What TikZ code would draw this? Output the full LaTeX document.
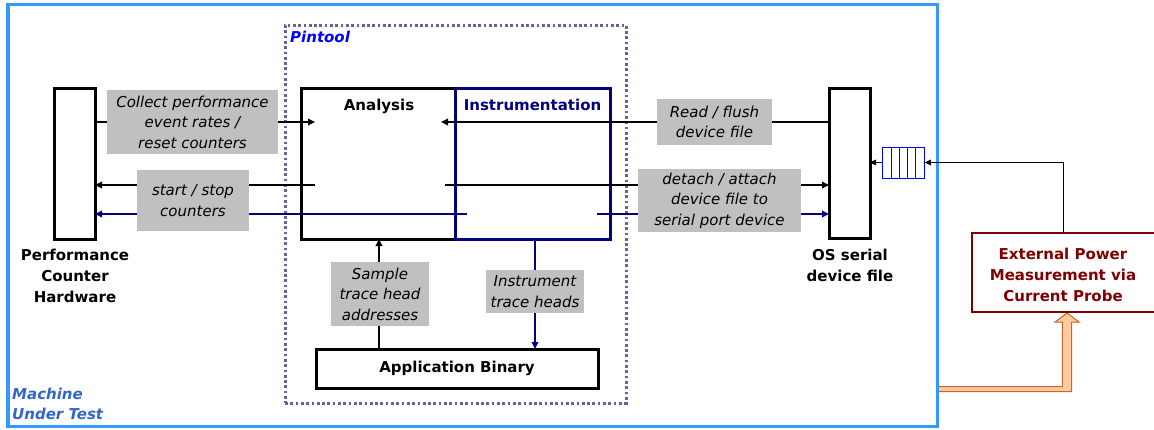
\documentclass[tikz,border=0pt]{standalone}
\usepackage{fontspec}
\setmainfont{DejaVu Sans}
\usetikzlibrary{arrows.meta}
\definecolor{navyc}{RGB}{0,0,128}
\definecolor{outerblue}{RGB}{51,153,255}
\definecolor{mutblue}{RGB}{51,102,204}
\definecolor{pinblue}{RGB}{0,0,255}
\definecolor{dotgray}{RGB}{100,100,155}
\definecolor{lblgray}{RGB}{192,192,192}
\definecolor{darkred}{RGB}{128,0,0}
\definecolor{orfill}{RGB}{255,204,153}
\definecolor{ordraw}{RGB}{200,100,50}
\begin{document}
\begin{tikzpicture}[x=1pt,y=-1pt,
  blk/.style={draw=black,line width=3pt,fill=white,inner sep=0pt,outer sep=0pt},
  nblk/.style={draw=navyc,line width=3pt,inner sep=0pt,outer sep=0pt},
  lbl/.style={fill=lblgray,inner sep=0pt,align=center,font=\fontsize{15}{20.5}\selectfont\itshape},
  btitle/.style={inner sep=0pt,align=center,font=\fontsize{15}{21}\selectfont\bfseries},
  arr/.style={line width=2pt,-{Triangle[length=7pt,width=6.5pt]}},
  narr/.style={draw=navyc,line width=1.7pt,-{Triangle[length=7pt,width=6.5pt]}},
  qline/.style={draw=pinblue,line width=0.9pt}]
\useasboundingbox (0,0) rectangle (1154,429);
% orange block arrow
\draw[fill=orfill,draw=ordraw,line width=1pt] (930,386.7) -- (1062.3,386.7) -- (1062.3,322) -- (1055,322) -- (1067,313) -- (1079,322) -- (1071.7,322) -- (1071.7,391.7) -- (930,391.7) -- cycle;
% outer machine box
\node[draw=outerblue,line width=3.5pt,fill=white,minimum width=929.5pt,minimum height=422.3pt,inner sep=0pt,outer sep=0pt] (mach) at (472.75,215.55) {};
\node[anchor=north west,inner sep=0pt,align=left,text=mutblue,font=\fontsize{15}{19.5}\selectfont\bfseries\itshape] (mut) at (12,388) {Machine\\Under Test};
% pintool dotted box
\node[draw=dotgray,line width=3pt,dash pattern=on 2.7pt off 2.6pt,minimum width=341pt,minimum height=378pt,inner sep=0pt] (pin) at (455.5,214) {};
\node[anchor=base west,inner sep=0pt,text=pinblue,font=\fontsize{15}{21}\selectfont\bfseries\itshape] (pinlbl) at (290,42) {Pintool};
% main boxes
\node[blk,minimum width=41pt,minimum height=151pt] (pch) at (74.5,163.5) {};
\node[btitle,anchor=north] (pchl) at (75,249) {Performance\\Counter\\Hardware};
\node[blk,minimum width=154pt,minimum height=151pt] (ana) at (378,163.5) {};
\node[nblk,minimum width=155pt,minimum height=151pt] (ins) at (532.5,163.5) {};
\node[btitle,anchor=base] (anal) at (379,110) {Analysis};
\node[btitle,anchor=base,text=navyc] (insl) at (532.5,110) {Instrumentation};
\node[blk,minimum width=41pt,minimum height=150pt] (os) at (849.5,163) {};
\node[btitle,anchor=north] (osl) at (850,249) {OS serial\\device file};
\node[blk,minimum width=282pt,minimum height=39pt] (app) at (457,368.5) {};
\node[btitle] (appl) at (457,368.5) {Application Binary};
% queue
\node[draw=pinblue,line width=0.9pt,fill=white,minimum width=41.6pt,minimum height=31pt,inner sep=0pt] (q) at (903.5,162.5) {};
\draw[qline] (891,147) -- (891,178) (899.3,147) -- (899.3,178) (907.5,147) -- (907.5,178) (915.7,147) -- (915.7,178);
% external box
\node[draw=darkred,line width=2.7pt,fill=white,minimum width=183pt,minimum height=79pt,inner sep=0pt,outer sep=0pt] (ext) at (1063.5,272.5) {};
\node[btitle,anchor=north,text=darkred] (extl) at (1063,247.5) {External Power\\Measurement via\\Current Probe};
% connector end points
\coordinate (aIn) at (315,122);
\coordinate (aIn2) at (441,122);
\coordinate (aOut) at (315,185);
\coordinate (iOut) at (445,185);
\coordinate (iOut2) at (467,214);
\coordinate (iOut3) at (597,214);
\coordinate (smpx) at (379,300);
\coordinate (insx) at (535,300);
% connectors
\draw[arr] (pch.east |- aIn) -- (aIn);
\draw[arr] (os.west |- aIn2) -- (aIn2);
\draw[arr] (aOut) -- (pch.east |- aOut);
\draw[arr] (iOut) -- (os.west |- iOut);
\draw[narr] (iOut2) -- (pch.east |- iOut2);
\draw[narr] (iOut3) -- (os.west |- iOut3);
\draw[arr] (app.north -| smpx) -- (ana.south -| smpx);
\draw[narr] (ins.south -| insx) -- (app.north -| insx);
\draw[line width=1.3pt,-{Triangle[length=6pt,width=5.5pt]}] (q.west) -- (os.east |- q.west);
\draw[line width=1.3pt,-{Triangle[length=6pt,width=5.5pt]}] (ext.north) |- (q.east);
% labels
\node[lbl,minimum width=171pt,minimum height=64pt] (l1) at (192.5,122) {Collect performance\\event rates /\\reset counters};
\node[lbl,minimum width=112pt,minimum height=61pt] (l2) at (193,200.5) {start / stop\\counters};
\node[lbl,minimum width=115pt,minimum height=46pt] (l3) at (714.5,122) {Read / flush\\device file};
\node[lbl,minimum width=163pt,minimum height=63pt] (l4) at (719.5,200.5) {detach / attach\\device file to\\serial port device};
\node[lbl,minimum width=98pt,minimum height=64pt] (l5) at (380,294) {Sample\\trace head\\addresses};
\node[lbl,minimum width=98pt,minimum height=43pt] (l6) at (535,291.5) {Instrument\\trace heads};
\end{tikzpicture}
\end{document}
